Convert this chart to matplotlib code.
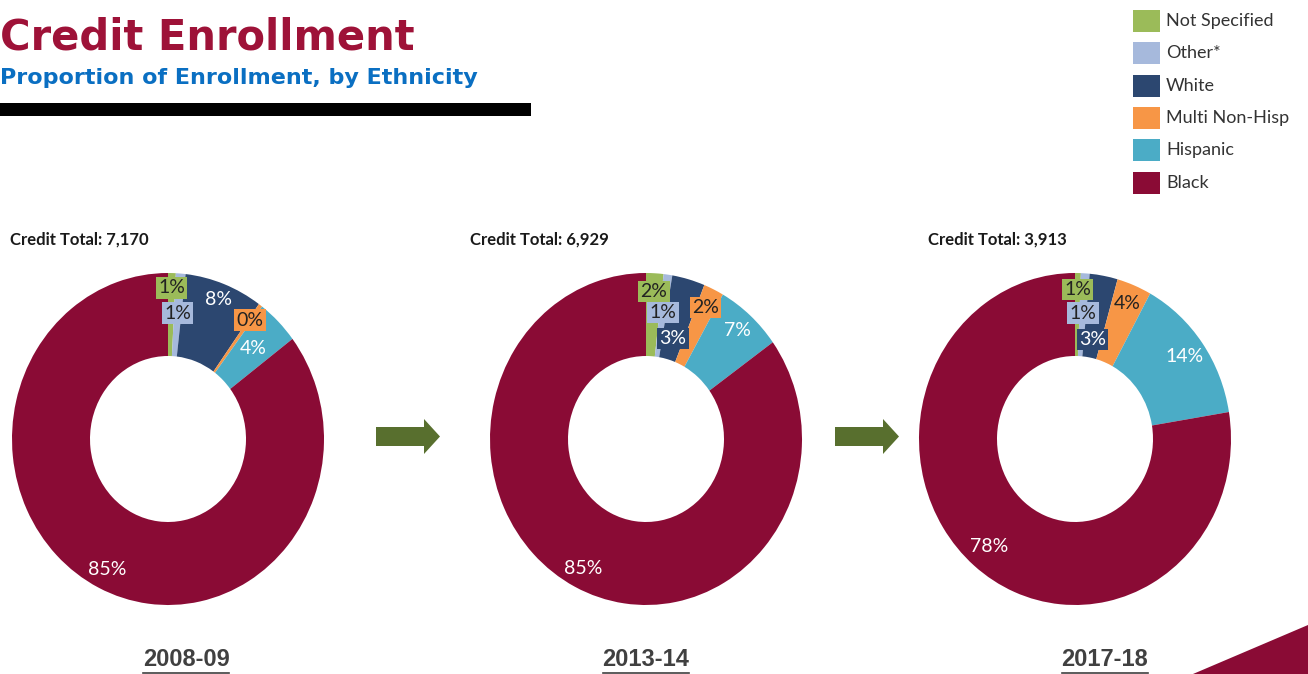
import matplotlib.pyplot as plt
import numpy as np
from matplotlib.patches import Polygon, Rectangle, FancyArrow

# Data
ethnicities = ['Not Specified', 'Other*', 'White', 'Multi Non-Hisp', 'Hispanic', 'Black']
years = ['2008-09', '2013-14', '2017-18']
credit_totals = ['7,170', '6,929', '3,913']
share_0809 = [0.8, 1.0, 8.1, 0.4, 4.4, 85.3]
share_1314 = [1.8, 0.9, 3.4, 2.1, 6.9, 84.9]
share_1718 = [0.6, 0.9, 2.9, 3.6, 14.4, 77.6]
shares = [share_0809, share_1314, share_1718]

colors = ['#9BBB59', '#A6B9DC', '#2C4770', '#F79646', '#4BACC6', '#8A0B35']

# Label layout (radius as fraction of outer radius, boxed?, text colour)
label_r = [[0.91, 0.76, 0.90, 0.89, 0.77, 0.88],
           [0.89, 0.77, 0.63, 0.88, 0.88, 0.88],
           [0.90, 0.76, 0.61, 0.88, 0.86, 0.85]]
label_box = [[True, True, False, True, False, False],
             [True, True, True, True, False, False],
             [True, True, True, False, False, False]]
dark, light = '#222222', 'white'
label_col = [[dark, dark, light, dark, light, light],
             [dark, dark, light, dark, light, light],
             [dark, dark, light, dark, light, light]]

W, H = 1308, 674
fig = plt.figure(figsize=(W / 100, H / 100), dpi=100)
fig.patch.set_facecolor('white')

# Background axes in pixel coordinates for the slide decoration
bg = fig.add_axes([0, 0, 1, 1], zorder=0)
bg.set_xlim(0, W)
bg.set_ylim(H, 0)
bg.axis('off')

bg.text(0, 38, 'Credit Enrollment', fontsize=30, fontweight='bold',
        family='DejaVu Sans', color='#9E1238', va='center', ha='left')
bg.text(0, 78, 'Proportion of Enrollment, by Ethnicity', fontsize=16, fontweight='bold',
        family='DejaVu Sans', color='#0A6FC2', va='center', ha='left')
bg.add_patch(Rectangle((0, 103), 531, 13, color='black', lw=0))

# Legend
for i, (name, col) in enumerate(zip(ethnicities, colors)):
    y = 21 + 32.3 * i
    bg.add_patch(Rectangle((1133, y - 11), 27, 22, color=col, lw=0))
    bg.text(1166, y, name, fontsize=13, family='Lato', color='#333333', va='center', ha='left')

# Arrows between donuts
for x0 in (376, 835):
    bg.add_patch(FancyArrow(x0, 436.5, 64, 0, width=19, head_width=35, head_length=16,
                            length_includes_head=True, color='#586F2E', lw=0))

# Bottom-right accent
bg.add_patch(Polygon([(1193, H), (W, 625), (W, H)], closed=True, color='#8A0B35', lw=0))

centers_x = [168, 646, 1075]
total_x = [10, 470, 928]
year_x = [186, 646, 1105]
rx, ry, cy = 156, 166, 439

year_texts = []
for k in range(3):
    ax = fig.add_axes([(centers_x[k] - rx) / W, (H - cy - ry) / H, 2 * rx / W, 2 * ry / H], zorder=2)
    ax.patch.set_alpha(0)
    wedges, _ = ax.pie(shares[k], colors=colors, startangle=90, counterclock=False, radius=1,
                       wedgeprops=dict(width=0.5, edgecolor='none', linewidth=0))
    ax.set_aspect('auto')
    ax.set_xlim(-1, 1)
    ax.set_ylim(-1, 1)
    ax.axis('off')
    for j, w in enumerate(wedges):
        ang = np.deg2rad((w.theta1 + w.theta2) / 2)
        r = label_r[k][j]
        bbox = dict(boxstyle='square,pad=0.12', fc=colors[j], ec='none') if label_box[k][j] else None
        ax.text(r * np.cos(ang), r * np.sin(ang), f'{shares[k][j]:.0f}%', fontsize=14,
                family='Lato', color=label_col[k][j], ha='center', va='center', bbox=bbox)

    bg.text(total_x[k], 240, f'Credit Total: {credit_totals[k]}', fontsize=12, fontweight='bold',
            family='Lato', color='#1a1a1a', va='center', ha='left')
    t = bg.text(year_x[k], 660, years[k], fontsize=17, fontweight='bold',
                family=['Liberation Sans Narrow', 'Liberation Sans'], color='#404040',
                va='center', ha='center')
    year_texts.append(t)

# Underline the year labels
fig.canvas.draw()
renderer = fig.canvas.get_renderer()
for t in year_texts:
    bb = t.get_window_extent(renderer)
    x0, x1 = bb.x0, bb.x1
    yl = H - bb.y0 + 1
    bg.plot([x0, x1], [yl, yl], color='#404040', lw=1.2)

fig.savefig('out.png', dpi=100, facecolor='white')
